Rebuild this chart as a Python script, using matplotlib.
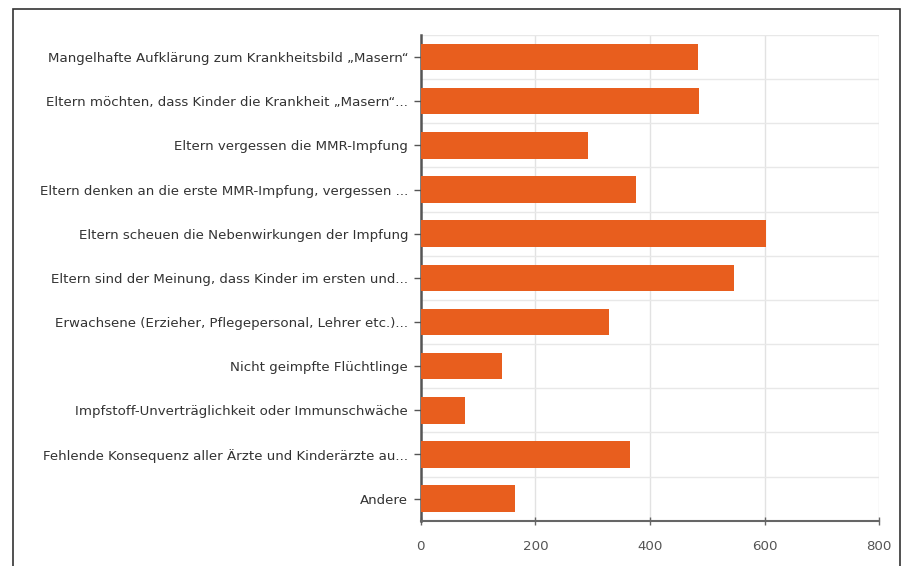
import matplotlib
matplotlib.use("Agg")
import matplotlib.pyplot as plt
from matplotlib.patches import Rectangle
import numpy as np

categories = [
    "Mangelhafte Aufklärung zum Krankheitsbild „Masern“",
    "Eltern möchten, dass Kinder die Krankheit „Masern“...",
    "Eltern vergessen die MMR-Impfung",
    "Eltern denken an die erste MMR-Impfung, vergessen ...",
    "Eltern scheuen die Nebenwirkungen der Impfung",
    "Eltern sind der Meinung, dass Kinder im ersten und...",
    "Erwachsene (Erzieher, Pflegepersonal, Lehrer etc.)...",
    "Nicht geimpfte Flüchtlinge",
    "Impfstoff-Unverträglichkeit oder Immunschwäche",
    "Fehlende Konsequenz aller Ärzte und Kinderärzte au...",
    "Andere",
]
values = [484, 485, 291, 375, 603, 547, 328, 141, 77, 365, 164]
xticks = [0, 200, 400, 600, 800]

bar_color = "#E85E1E"

fig = plt.figure(figsize=(9.03, 5.66), dpi=100)
fig.patch.set_facecolor("white")
fig.patches.append(Rectangle((13 / 903, -0.01), (900 - 13) / 903, 1 - 9 / 566 + 0.01,
                             transform=fig.transFigure, fill=False,
                             edgecolor="#333333", linewidth=1.2))

ax = fig.add_axes([420.7 / 903, 1 - 520.7 / 566, (879.3 - 420.7) / 903, (520.7 - 35) / 566])
y = np.arange(len(categories))
ax.barh(y, values, height=0.6, color=bar_color, zorder=3)
ax.set_ylim(len(categories) - 0.5, -0.5)
ax.set_xlim(0, 800)

ax.set_yticks(y)
ax.set_yticklabels(categories, fontsize=9.6, color="#333333")
ax.set_xticks(xticks)
ax.set_xticklabels([str(t) for t in xticks], fontsize=9.6, color="#555555")

# grid lines: vertical at ticks, horizontal between categories
for t in xticks[1:]:
    ax.axvline(t, color="#e2e2e2", linewidth=1, zorder=1)
for b in np.arange(-0.5, len(categories) - 0.5, 1.0):
    ax.axhline(b, color="#e8e8e8", linewidth=1, zorder=1)

for s in ["top", "right"]:
    ax.spines[s].set_visible(False)
ax.spines["left"].set_color("#555555")
ax.spines["left"].set_linewidth(1.8)
ax.spines["bottom"].set_color("#666666")
ax.spines["bottom"].set_linewidth(1.5)
ax.tick_params(axis="y", length=5, width=1, color="#555555", pad=4)
ax.tick_params(axis="x", direction="inout", length=6, width=1, color="#666666", pad=11)

fig.savefig("out.png", dpi=100, facecolor="white")
